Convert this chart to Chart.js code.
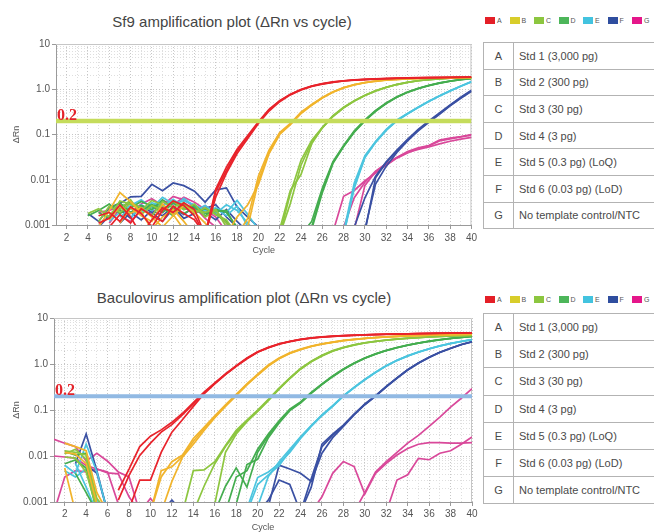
<!DOCTYPE html>
<html>
<head>
<meta charset="utf-8">
<script src="https://cdn.jsdelivr.net/npm/chart.js@4.4.1/dist/chart.umd.min.js"></script>
<style>
  html, body { margin: 0; padding: 0; background: #fff; }
  body { width: 654px; height: 532px; overflow: hidden; position: relative;
         font-family: "Liberation Sans", Arial, sans-serif; }
  .title { position: absolute; font-size: 15px; line-height: 17px; color: #444;
           white-space: nowrap; transform: translateX(-50%); }
  canvas { position: absolute; left: 0; }
  .legend { position: absolute; left: 485px; height: 8px; width: 180px; }
  .legend i { position: absolute; top: 0; width: 10px; height: 7px; }
  .legend span { position: absolute; top: -1px; font-size: 7px; line-height: 9px; color: #555; }
  table.key { position: absolute; left: 483px; border-collapse: collapse; width: 240px;
              font-size: 11px; color: #4a4a4a; }
  table.key td { border: 1px solid #b3b3b3; padding: 0 0 0 5px; white-space: nowrap; }
  table.key td.k { width: 29px; padding: 0; text-align: center; }
</style>
</head>
<body>
<div class="title" style="left:232px; top:13px;">Sf9 amplification plot (ΔRn vs cycle)</div>
<div class="title" style="left:244px; top:289px;">Baculovirus amplification plot (ΔRn vs cycle)</div>
<div class="legend" id="legTop" style="top:17px;"></div>
<div class="legend" id="legBottom" style="top:296px;"></div>
<table class="key" id="keyTop" style="top:42px;"></table>
<table class="key" id="keyBottom" style="top:313px;"></table>
<canvas id="sf9" width="480" height="265" style="top:0;"></canvas>
<canvas id="bv" width="480" height="262" style="top:280px;"></canvas>
<script>
// ---- categories and labels ----
const cycles = Array.from({ length: 40 }, (_, i) => i + 1);
const xTickValues = [2, 4, 6, 8, 10, 12, 14, 16, 18, 20, 22, 24, 26, 28, 30, 32, 34, 36, 38, 40];
const yTickValues = [0.001, 0.01, 0.1, 1, 10];
const yTickLabels = ['0.001', '0.01', '0.1', '1.0', '10'];
const sampleKeys = ['A', 'B', 'C', 'D', 'E', 'F', 'G'];
const sampleNames = ['Std 1 (3,000 pg)', 'Std 2 (300 pg)', 'Std 3 (30 pg)', 'Std 4 (3 pg)',
  'Std 5 (0.3 pg) (LoQ)', 'Std 6 (0.03 pg) (LoD)', 'No template control/NTC'];
const swatchColors = ['#e41f27', '#d8cd2a', '#8cc63f', '#4db65a', '#43c3df', '#2f4e9f', '#e5168a'];
const lineColors = ['#e8232b', '#f1b42c', '#8dc640', '#44ad4f', '#4cc5df', '#3a50a3', '#d9489a'];

// thresholds
const sf9Threshold = 0.2;
const bvThreshold = 0.2;

const N = null;     // cycle not recorded
const L = 0.0006;   // reading below the 0.001 floor of the axis

// ---- Sf9 ΔRn per cycle (1..40), three replicates per sample ----
const sf9A1 = [N,N,N,N,.0016,.0019,.0012,.0025,.0018,.0009,
  .0021,.0034,.0027,.0016,L,.0055,.016,.043,.088,.185,
  .35,.55,.77,.98,1.17,1.32,1.44,1.53,1.6,1.65,
  1.69,1.72,1.75,1.77,1.79,1.8,1.82,1.83,1.84,1.85];
const sf9A2 = [N,N,N,N,.0011,.0014,.0028,.0015,L,.0013,
  .0024,.0019,.0031,.0022,L,.0042,.014,.038,.082,.175,
  .33,.53,.75,.96,1.15,1.3,1.42,1.52,1.59,1.64,
  1.68,1.71,1.74,1.76,1.78,1.8,1.81,1.82,1.83,1.84];
const sf9A3 = [N,N,N,N,N,.0009,.0017,.0011,.0023,.0016,
  .0012,.0026,.0018,.0013,L,.0062,.019,.047,.095,.19,
  .36,.56,.78,.99,1.18,1.33,1.45,1.54,1.61,1.66,
  1.7,1.73,1.76,1.78,1.8,1.81,1.83,1.84,1.85,1.86];
const sf9B1 = [N,N,N,N,.0009,.0021,.0052,.0033,.0019,.0008,
  .0015,.0022,.0012,L,L,L,L,L,.0014,.012,
  .045,.11,.175,.31,.46,.66,.88,1.09,1.27,1.41,
  1.52,1.6,1.66,1.7,1.73,1.76,1.78,1.8,1.81,1.82];
const sf9B2 = [N,N,N,N,N,.0013,.0026,.0018,.0024,.0015,
  .0009,.0016,.0027,.0019,.0011,L,L,L,.0009,.0095,
  .04,.105,.17,.3,.45,.65,.87,1.08,1.26,1.4,
  1.51,1.6,1.66,1.7,1.73,1.76,1.78,1.8,1.81,1.82];
const sf9B3 = [N,N,N,N,N,N,.0011,.0024,.0016,.0012,
  .0029,.0017,.0008,L,L,L,L,.0015,.0028,.0078,
  .038,.1,.165,.29,.44,.64,.86,1.07,1.25,1.39,
  1.5,1.59,1.65,1.69,1.73,1.76,1.78,1.79,1.81,1.82];
const sf9C1 = [N,N,N,.0018,.0023,.0015,.0034,.0029,.0021,.0035,
  .0028,.0017,.0026,.0021,.0019,.0022,.0009,L,L,L,
  L,L,.005,.027,.074,.145,.26,.4,.56,.74,
  .93,1.11,1.28,1.43,1.55,1.64,1.71,1.76,1.79,1.81];
const sf9C2 = [N,N,N,N,.0012,.0026,.0019,.0031,.0024,.0016,
  .0033,.0025,.0031,.0018,.0024,.0017,.0013,L,L,L,
  L,.0008,.0058,.013,.062,.14,.255,.39,.55,.73,
  .92,1.1,1.27,1.42,1.54,1.63,1.7,1.75,1.78,1.8];
const sf9C3 = [N,N,N,N,N,.0017,.0022,.0036,.0017,.0027,
  .0021,.0034,.0022,.0029,.0015,.0021,.0011,L,L,L,
  L,L,.003,.021,.068,.14,.25,.39,.55,.73,
  .92,1.1,1.27,1.42,1.54,1.63,1.7,1.75,1.78,1.8];
const sf9D1 = [N,N,N,.0016,.0021,.0029,.0018,.0024,.0033,.0026,
  .0019,.0031,.0022,.0027,.0018,.002,.0021,.0008,L,L,
  L,L,L,L,.0012,.0065,.025,.057,.12,.21,
  .34,.5,.68,.87,1.05,1.22,1.38,1.52,1.64,1.74];
const sf9D2 = [N,N,N,N,.0019,.0014,.0025,.0032,.0021,.0028,
  .0024,.0016,.0029,.0019,.0023,.0017,.0012,L,L,L,
  L,L,L,L,.0009,.0058,.024,.055,.115,.205,
  .33,.49,.67,.86,1.04,1.21,1.37,1.51,1.63,1.73];
const sf9D3 = [N,N,N,N,N,.0023,.0031,.0019,.0027,.0022,
  .0036,.0023,.0018,.0024,.0016,.0022,.0019,.0009,L,L,
  L,L,L,L,.0008,.0052,.023,.054,.112,.2,
  .325,.485,.665,.855,1.035,1.2,1.36,1.5,1.62,1.72];
const sf9E1 = [N,N,N,N,N,.0012,.0019,.0027,.0036,.0024,
  .0041,.0029,.0034,.0028,.0021,.0024,.0019,.0035,.0017,.0008,
  L,L,L,L,L,L,L,.0007,.0085,.034,
  .07,.13,.21,.29,.4,.54,.72,.93,1.18,1.48];
const sf9E2 = [N,N,N,N,N,N,.0015,.0023,.0018,.0031,
  .0026,.0037,.0025,.0021,.0027,.0018,.0028,.0021,.0011,L,
  L,L,L,L,L,L,L,L,.0072,.032,
  .068,.125,.205,.29,.4,.54,.71,.92,1.17,1.46];
const sf9E3 = [N,N,N,N,N,N,N,.0014,.0028,.0021,
  .0034,.0024,.0039,.0026,.0019,.0023,.0016,.0026,.0009,L,
  L,L,L,L,L,L,L,L,.0065,.031,
  .067,.123,.2,.285,.395,.535,.71,.915,1.16,1.45];
const sf9F1 = [N,N,N,.0018,.0012,.0024,.003,.0042,.0043,.0079,
  .0057,.0085,.0074,.0056,.0032,.006,.0066,.0025,.0015,.0009,
  L,L,L,L,L,L,L,L,L,.0007,
  .011,.024,.043,.075,.125,.19,.29,.44,.65,.92];
const sf9F2 = [N,N,N,N,.0009,.0016,.0022,.0014,.0027,.0019,
  .0012,.0023,.0017,.0026,.0019,.0013,.0022,.0012,.0007,L,
  L,L,L,L,L,L,L,L,.0009,.004,
  .012,.025,.045,.078,.13,.2,.3,.45,.67,.95];
const sf9F3 = [N,N,N,N,N,N,.0011,.0019,.0013,.0021,
  .0016,.0025,.0014,.0018,.0023,.0028,.0015,.0009,L,L,
  L,L,L,L,L,L,L,L,L,.0008,
  .008,.02,.04,.072,.12,.185,.28,.43,.63,.9];
const sf9G1 = [N,N,N,N,.0019,.0021,.0026,.0018,.0029,.0038,
  .0027,.0043,.0036,.0025,.0014,.0009,L,L,L,L,
  L,L,L,L,L,L,.0007,.0043,.0058,.0095,
  .014,.021,.03,.039,.049,.056,.072,.08,.088,.097];
const sf9G2 = [N,N,N,N,N,.0011,.0023,.0032,.0024,.0017,
  .0035,.0028,.0041,.0032,.0022,.0015,.0007,L,L,L,
  L,L,L,L,L,L,L,.0009,.004,.0088,
  .0155,.023,.031,.04,.047,.053,.062,.071,.079,.086];
const sf9G3 = [N,N,N,N,N,N,.0016,.0012,.0021,.0026,
  .0019,.0031,.0024,.0019,.0027,.0018,.0011,L,L,L,
  L,L,L,L,L,L,L,L,.0008,.0075,
  .015,.022,.031,.042,.051,.057,.075,.083,.09,.1];

// ---- Baculovirus ΔRn per cycle (1..40), three replicates per sample ----
const bvA1 = [N,N,N,N,N,N,.0018,.0052,.016,.027,
  .037,.054,.085,.145,.245,.39,.61,.92,1.35,1.85,
  2.3,2.75,3.1,3.45,3.7,3.88,4.02,4.14,4.24,4.32,
  4.39,4.45,4.5,4.55,4.6,4.64,4.68,4.72,4.75,4.78];
const bvA2 = [N,N,N,N,N,N,.0011,.0038,.0103,.019,
  .033,.048,.079,.135,.235,.38,.6,.9,1.32,1.82,
  2.27,2.72,3.08,3.42,3.68,3.86,4.0,4.12,4.22,4.3,
  4.37,4.43,4.48,4.53,4.58,4.62,4.66,4.7,4.73,4.76];
const bvA3 = [N,N,N,N,N,N,N,.0007,.003,.003,
  .012,.033,.062,.12,.225,.37,.59,.89,1.3,1.8,
  2.25,2.7,3.06,3.4,3.66,3.84,3.98,4.1,4.2,4.28,
  4.35,4.41,4.46,4.51,4.56,4.6,4.64,4.68,4.71,4.74];
const bvB1 = [N,.019,.016,.013,.0016,L,L,L,L,L,
  .0035,.0075,.0105,.024,.042,.075,.13,.22,.37,.6,
  .95,1.35,1.75,2.1,2.45,2.75,3.0,3.25,3.45,3.62,
  3.77,3.9,4.0,4.1,4.18,4.25,4.31,4.36,4.4,4.45];
const bvB2 = [N,.012,.011,.0068,.0009,L,L,L,L,L,
  .0048,.0058,.0098,.021,.039,.07,.125,.21,.36,.58,
  .92,1.32,1.72,2.07,2.42,2.72,2.98,3.22,3.42,3.6,
  3.75,3.88,3.98,4.08,4.16,4.23,4.29,4.34,4.39,4.43];
const bvB3 = [N,.0055,L,L,L,L,L,L,L,L,
  L,.0028,.0095,.018,.036,.068,.12,.205,.35,.57,
  .9,1.3,1.7,2.05,2.4,2.7,2.96,3.2,3.4,3.58,
  3.73,3.86,3.97,4.07,4.15,4.22,4.28,4.33,4.38,4.42];
const bvC1 = [N,.013,.012,.0105,.0012,L,L,L,L,L,
  L,L,L,.0048,.005,.0075,.017,.036,.06,.1,
  .17,.3,.5,.8,1.15,1.55,1.95,2.3,2.62,2.9,
  3.12,3.32,3.5,3.65,3.78,3.9,4.0,4.08,4.15,4.22];
const bvC2 = [N,.0095,.009,.0045,.0007,L,L,L,L,L,
  L,L,L,L,.0022,.0068,.016,.033,.058,.095,
  .165,.29,.49,.78,1.13,1.52,1.92,2.27,2.6,2.88,
  3.1,3.3,3.48,3.63,3.76,3.88,3.98,4.07,4.14,4.2];
const bvC3 = [N,.011,.014,.0085,.0009,L,L,L,L,L,
  L,L,L,L,L,.0009,.012,.03,.056,.093,
  .16,.285,.48,.77,1.12,1.5,1.9,2.25,2.58,2.86,
  3.08,3.28,3.46,3.61,3.74,3.86,3.96,4.05,4.12,4.18];
const bvD1 = [N,.0125,.0105,.0115,.0007,L,L,L,L,L,
  L,L,L,L,L,L,L,.0035,.0048,.014,
  .03,.058,.105,.15,.24,.37,.55,.78,1.05,1.35,
  1.66,1.98,2.28,2.58,2.86,3.13,3.38,3.6,3.8,3.98];
const bvD2 = [N,.0068,.0082,.0055,L,L,L,L,L,L,
  L,L,L,L,L,L,.0022,.0055,.0021,.012,
  .028,.055,.1,.145,.235,.36,.54,.77,1.04,1.34,
  1.65,1.97,2.27,2.57,2.85,3.12,3.37,3.59,3.79,3.97];
const bvD3 = [N,N,.0042,.0016,L,L,L,L,L,L,
  L,L,L,L,L,L,L,.0009,.0065,.0085,
  .025,.052,.097,.142,.23,.355,.53,.76,1.03,1.33,
  1.64,1.96,2.26,2.56,2.84,3.11,3.36,3.58,3.78,3.96];
const bvE1 = [N,.0063,.0042,.018,.0045,L,L,L,L,L,
  L,L,L,L,L,L,L,L,.0007,.0034,
  .0045,.0068,.012,.024,.044,.075,.12,.2,.31,.46,
  .66,.92,1.2,1.5,1.82,2.15,2.48,2.8,3.1,3.4];
const bvE2 = [N,.0048,.0035,.0052,.0011,L,L,L,L,L,
  L,L,L,L,L,L,L,L,L,.0024,
  .0039,.0062,.013,.025,.045,.077,.122,.2,.305,.455,
  .65,.91,1.19,1.49,1.8,2.13,2.46,2.78,3.08,3.38];
const bvE3 = [N,N,.0068,.0021,L,L,L,L,L,L,
  L,L,L,L,L,L,L,L,L,.0008,
  .0036,.0075,.014,.026,.046,.078,.125,.205,.31,.46,
  .66,.92,1.2,1.5,1.81,2.14,2.47,2.79,3.09,3.39];
const bvF1 = [N,N,.0068,.03,.0048,L,L,L,L,L,
  L,L,L,L,L,L,L,L,L,L,
  .0008,.0063,.0052,.0042,.0028,.0115,.025,.044,.078,.13,
  .2,.32,.5,.75,1.05,1.4,1.8,2.2,2.65,3.05];
const bvF2 = [N,N,N,.0065,.0042,L,L,L,L,L,
  L,.0011,L,L,L,L,L,L,L,L,
  .0011,.003,.0024,L,.0032,.016,.028,.046,.08,.135,
  .205,.325,.5,.75,1.05,1.4,1.8,2.2,2.65,3.05];
const bvF3 = [N,N,N,N,N,N,N,N,N,N,
  N,N,N,N,N,N,N,N,N,N,
  N,N,N,L,.0021,.018,.03,.047,.081,.132,
  .2,.32,.49,.74,1.04,1.39,1.78,2.18,2.62,3.02];
const bvG1 = [.023,.019,.016,.0078,.0115,.0077,.0045,.0035,L,L,
  L,L,L,L,L,L,L,L,L,L,
  L,L,L,L,L,.0013,.0042,.0076,.0059,.0015,
  .0042,.0069,.0105,.0145,.018,.0195,.0195,.019,.019,.0195];
const bvG2 = [.01,.0095,.009,.0062,.0052,.0043,.0041,.0013,L,L,
  L,L,L,L,L,L,L,L,L,L,
  L,L,L,L,L,L,L,L,L,.0016,
  .0045,.0075,.012,.019,.028,.044,.07,.115,.18,.29];
const bvG3 = [L,.0035,.0048,.0045,.0052,.0045,.0009,L,L,.0012,
  L,L,L,L,L,L,L,L,L,L,
  L,L,L,L,L,L,L,L,L,L,
  L,L,.003,.0039,.0089,.0083,.0115,.013,.018,.026];

const sf9Reps = [[sf9A1, sf9A2, sf9A3], [sf9B1, sf9B2, sf9B3], [sf9C1, sf9C2, sf9C3],
  [sf9D1, sf9D2, sf9D3], [sf9E1, sf9E2, sf9E3], [sf9F1, sf9F2, sf9F3], [sf9G1, sf9G2, sf9G3]];
const bvReps = [[bvA1, bvA2, bvA3], [bvB1, bvB2, bvB3], [bvC1, bvC2, bvC3],
  [bvD1, bvD2, bvD3], [bvE1, bvE2, bvE3], [bvF1, bvF2, bvF3], [bvG1, bvG2, bvG3]];

// ---- legend strips and sample keys ----
function buildLegend(id) {
  const el = document.getElementById(id);
  sampleKeys.forEach((k, i) => {
    const sw = document.createElement('i');
    sw.style.left = (i * 24.5) + 'px';
    sw.style.background = swatchColors[i];
    const tx = document.createElement('span');
    tx.style.left = (i * 24.5 + 12) + 'px';
    tx.textContent = k;
    el.appendChild(sw); el.appendChild(tx);
  });
}
function buildKey(id, rowH) {
  const t = document.getElementById(id);
  sampleKeys.forEach((k, i) => {
    const tr = document.createElement('tr');
    tr.style.height = rowH + 'px';
    const a = document.createElement('td'); a.className = 'k'; a.textContent = k;
    const b = document.createElement('td'); b.textContent = sampleNames[i];
    tr.appendChild(a); tr.appendChild(b); t.appendChild(tr);
  });
}
buildLegend('legTop'); buildLegend('legBottom');
buildKey('keyTop', 26.6); buildKey('keyBottom', 27.2);

// ---- chart plumbing ----
const fontFamily = '"Liberation Sans", Arial, sans-serif';
const gridCycles = cycles.slice();
const gridLevels = [];
[0.001, 0.01, 0.1, 1].forEach(d => { for (let m = 1; m < 10; m++) gridLevels.push(+(d * m).toPrecision(3)); });
gridLevels.push(10);
const isYLabel = v => yTickValues.some(t => Math.abs(t - v) / t < 1e-6);

const plotFrame = {
  id: 'plotFrame',
  beforeDatasetsDraw(chart) {
    const { ctx, chartArea: a } = chart;
    ctx.save();
    ctx.strokeStyle = '#c6c6c6';
    ctx.lineWidth = 1;
    ctx.beginPath();
    ctx.moveTo(a.left, a.top + 0.5); ctx.lineTo(a.right - 0.5, a.top + 0.5); ctx.lineTo(a.right - 0.5, a.bottom);
    ctx.stroke();
    ctx.restore();
  }
};
const thresholdLabel = {
  id: 'thresholdLabel',
  afterDatasetsDraw(chart, args, o) {
    const { ctx, chartArea } = chart;
    const y = chart.scales.y.getPixelForValue(o.value);
    ctx.save();
    ctx.font = 'bold 16px "Liberation Serif", "Times New Roman", serif';
    ctx.fillStyle = '#e3232a';
    ctx.textBaseline = 'alphabetic';
    ctx.fillText(String(o.value), chartArea.left + 1, y - 1);
    ctx.restore();
  }
};

function buildChart(id, reps, o) {
  const datasets = [{
    data: [{ x: 1, y: o.threshold }, { x: 40, y: o.threshold }],
    borderColor: o.thresholdColor, borderWidth: o.thresholdWidth,
    pointRadius: 0, order: 0
  }];
  reps.forEach((group, si) => group.forEach(r => datasets.push({
    data: r, borderColor: lineColors[si], borderWidth: 1.7,
    pointRadius: 0, tension: 0, order: 1
  })));
  return new Chart(document.getElementById(id), {
    type: 'line',
    data: { labels: cycles, datasets },
    options: {
      responsive: false, animation: false, devicePixelRatio: 1, events: [],
      layout: { padding: { top: o.padTop, right: 8, left: 0, bottom: 0 } },
      plugins: {
        legend: { display: false }, tooltip: { enabled: false }, title: { display: false },
        thresholdLabel: { value: o.threshold }
      },
      scales: {
        x: {
          type: 'linear', min: 1, max: 40,
          afterBuildTicks: s => { s.ticks = gridCycles.map(v => ({ value: v })); },
          afterFit: s => { s.height = o.xAxisHeight; },
          ticks: {
            autoSkip: false, maxRotation: 0, padding: o.xTickPad, color: '#555',
            font: { size: 10, family: fontFamily },
            callback: v => (xTickValues.includes(v) ? String(v) : '')
          },
          grid: {
            color: c => (c.tick && xTickValues.includes(c.tick.value)) ? '#c6c6c6' : '#dedede',
            tickColor: c => (c.tick && xTickValues.includes(c.tick.value)) ? '#9a9a9a' : 'rgba(0,0,0,0)',
            tickLength: 4, lineWidth: 1
          },
          border: { display: true, color: '#9a9a9a', width: 1, dash: [1, 2] },
          title: { display: true, text: 'Cycle', color: '#555', font: { size: 9, family: fontFamily },
                   padding: { top: 0, bottom: 9 } }
        },
        y: {
          type: 'logarithmic', min: 0.001, max: 10,
          afterBuildTicks: s => { s.ticks = gridLevels.map(v => ({ value: v })); },
          afterFit: s => { s.width = o.yAxisWidth; },
          ticks: {
            autoSkip: false, padding: 2, color: '#555', font: { size: 10, family: fontFamily },
            callback: v => { const i = yTickValues.findIndex(t => Math.abs(t - v) / t < 1e-6); return i < 0 ? '' : yTickLabels[i]; }
          },
          grid: {
            color: c => (c.tick && isYLabel(c.tick.value)) ? '#c6c6c6' : '#dedede',
            tickColor: c => (c.tick && isYLabel(c.tick.value)) ? '#9a9a9a' : 'rgba(0,0,0,0)',
            tickLength: 4, lineWidth: 1
          },
          border: { display: true, color: '#9a9a9a', width: 1, dash: [1, 2] },
          title: { display: true, text: 'ΔRn', color: '#555', font: { size: 9, family: fontFamily },
                   padding: { top: 11, bottom: 0 } }
        }
      }
    },
    plugins: [plotFrame, thresholdLabel]
  });
}

buildChart('sf9', sf9Reps, {
  threshold: sf9Threshold, thresholdColor: '#c5dc5b', thresholdWidth: 4.5,
  padTop: 44, xAxisHeight: 40, yAxisWidth: 56, xTickPad: 3
});
buildChart('bv', bvReps, {
  threshold: bvThreshold, thresholdColor: '#91b9e3', thresholdWidth: 4,
  padTop: 38, xAxisHeight: 40, yAxisWidth: 54, xTickPad: 2
});
</script>
</body>
</html>
